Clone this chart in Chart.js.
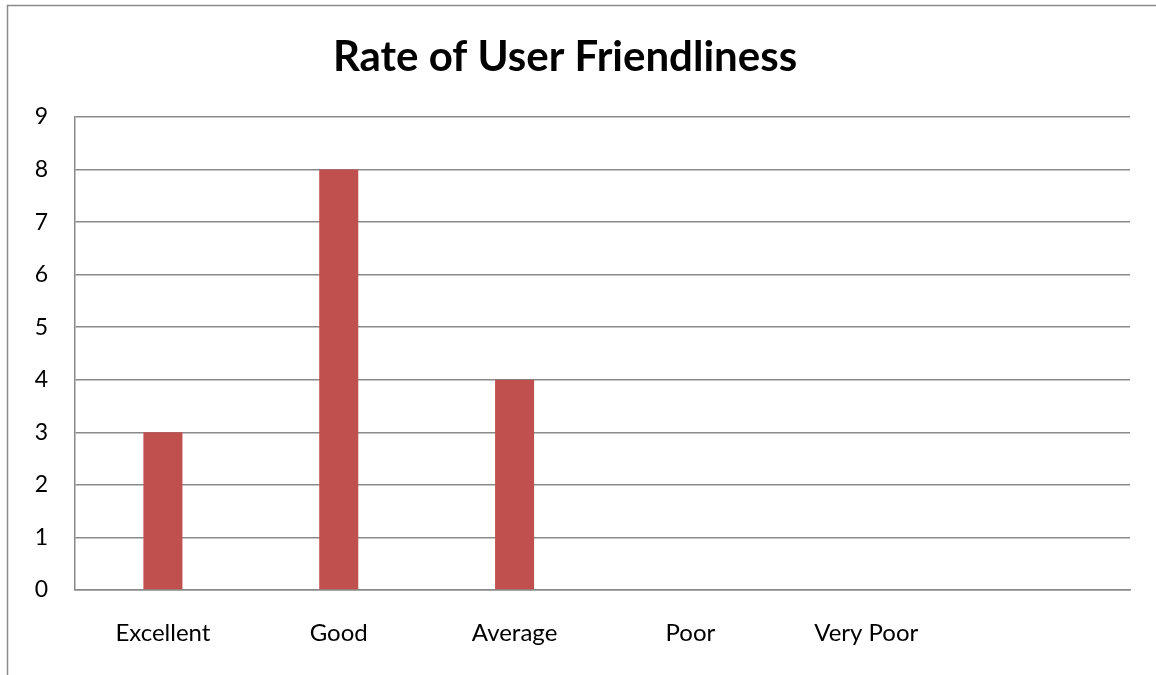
<!DOCTYPE html>
<html>
<head>
<meta charset="utf-8">
<script src="https://cdn.jsdelivr.net/npm/chart.js@4/dist/chart.umd.min.js"></script>
<style>
  html, body { margin: 0; padding: 0; background: #fff; }
  #wrap { position: relative; width: 1156px; height: 675px; }
</style>
</head>
<body>
<div id="wrap"><canvas id="c" width="1156" height="675"></canvas></div>
<script>
// Survey responses per rating
const categories = ['Excellent', 'Good', 'Average', 'Poor', 'Very Poor', ''];
const responses = [3, 8, 4, 0, 0, null];
const yTicks = [0, 1, 2, 3, 4, 5, 6, 7, 8, 9];

const FONT = "Lato, 'Open Sans', sans-serif";
const GRID = '#8a8a8a';

// Outer frame of the chart area
const framePlugin = {
  id: 'frame',
  beforeDraw(chart) {
    const ctx = chart.ctx;
    ctx.save();
    ctx.fillStyle = '#fff';
    ctx.fillRect(0, 0, chart.width, chart.height);
    ctx.strokeStyle = GRID;
    ctx.lineWidth = 1.5;
    ctx.strokeRect(7.5, 5.5, 1300, 800);
    ctx.restore();
  }
};

new Chart(document.getElementById('c'), {
  type: 'bar',
  data: {
    labels: categories,
    datasets: [{
      label: 'Responses',
      data: responses,
      backgroundColor: '#C0504D',
      borderWidth: 0,
      categoryPercentage: 1,
      barPercentage: 0.222
    }]
  },
  options: {
    responsive: false,
    animation: false,
    layout: { padding: { left: 0, right: 26, top: 0, bottom: 0 } },
    plugins: {
      legend: { display: false },
      tooltip: { enabled: false },
      title: {
        display: true,
        text: 'Rate of User Friendliness',
        color: '#000',
        font: { family: FONT, size: 42, weight: 'bold', lineHeight: 1.2 },
        padding: { top: 32, bottom: 34.6 }
      }
    },
    scales: {
      x: {
        grid: { display: false, drawTicks: false },
        border: { display: true, color: GRID, width: 1.5 },
        ticks: {
          color: '#000',
          font: { family: FONT, size: 24 },
          padding: 29,
          maxRotation: 0,
          autoSkip: false
        },
        afterFit(scale) { scale.height = 85; }
      },
      y: {
        min: 0,
        max: 9,
        afterBuildTicks(scale) { scale.ticks = yTicks.map(v => ({ value: v })); },
        grid: { color: GRID, lineWidth: 1.5, drawTicks: false },
        border: { display: true, color: GRID, width: 1.5 },
        ticks: {
          color: '#000',
          font: { family: FONT, size: 23 },
          padding: 27
        },
        afterFit(scale) { scale.width = 75; }
      }
    }
  },
  plugins: [framePlugin]
});
</script>
</body>
</html>
